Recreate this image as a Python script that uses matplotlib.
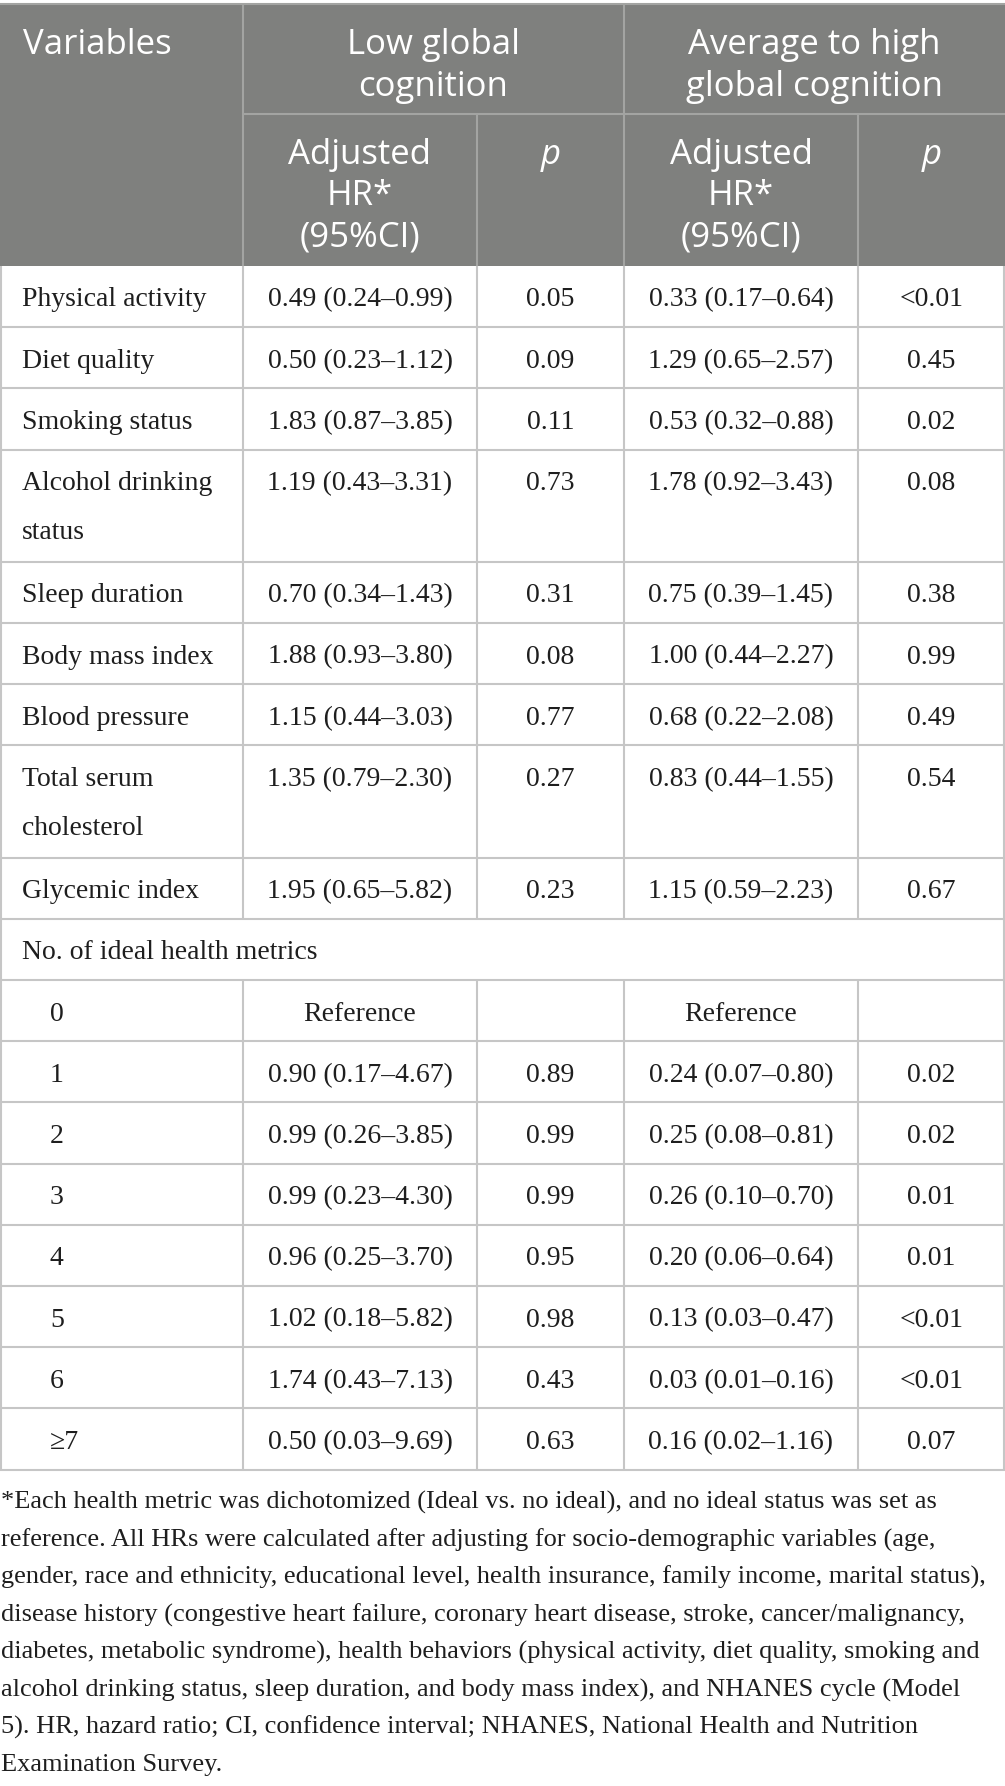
import matplotlib.pyplot as plt

# table data
variables = ["Physical activity", "Diet quality", "Smoking status",
             "Alcohol drinking\nstatus", "Sleep duration", "Body mass index",
             "Blood pressure", "Total serum\ncholesterol", "Glycemic index"]
low_hr = ["0.49 (0.24–0.99)", "0.50 (0.23–1.12)", "1.83 (0.87–3.85)",
          "1.19 (0.43–3.31)", "0.70 (0.34–1.43)", "1.88 (0.93–3.80)",
          "1.15 (0.44–3.03)", "1.35 (0.79–2.30)", "1.95 (0.65–5.82)"]
low_p = ["0.05", "0.09", "0.11", "0.73", "0.31", "0.08", "0.77", "0.27", "0.23"]
high_hr = ["0.33 (0.17–0.64)", "1.29 (0.65–2.57)", "0.53 (0.32–0.88)",
           "1.78 (0.92–3.43)", "0.75 (0.39–1.45)", "1.00 (0.44–2.27)",
           "0.68 (0.22–2.08)", "0.83 (0.44–1.55)", "1.15 (0.59–2.23)"]
high_p = ["<0.01", "0.45", "0.02", "0.08", "0.38", "0.99", "0.49", "0.54", "0.67"]

group_label = "No. of ideal health metrics"
metrics_n = ["0", "1", "2", "3", "4", "5", "6", "≥7"]
metrics_low_hr = ["Reference", "0.90 (0.17–4.67)", "0.99 (0.26–3.85)",
                  "0.99 (0.23–4.30)", "0.96 (0.25–3.70)", "1.02 (0.18–5.82)",
                  "1.74 (0.43–7.13)", "0.50 (0.03–9.69)"]
metrics_low_p = ["", "0.89", "0.99", "0.99", "0.95", "0.98", "0.43", "0.63"]
metrics_high_hr = ["Reference", "0.24 (0.07–0.80)", "0.25 (0.08–0.81)",
                   "0.26 (0.10–0.70)", "0.20 (0.06–0.64)", "0.13 (0.03–0.47)",
                   "0.03 (0.01–0.16)", "0.16 (0.02–1.16)"]
metrics_high_p = ["", "0.02", "0.02", "0.01", "0.01", "<0.01", "<0.01", "0.07"]

header_groups = ["Low global\ncognition", "Average to high\nglobal cognition"]
header_sub = ["Adjusted\nHR*\n(95%CI)", "p"]

footnote = [
    "*Each health metric was dichotomized (Ideal vs. no ideal), and no ideal status was set as",
    "reference. All HRs were calculated after adjusting for socio-demographic variables (age,",
    "gender, race and ethnicity, educational level, health insurance, family income, marital status),",
    "disease history (congestive heart failure, coronary heart disease, stroke, cancer/malignancy,",
    "diabetes, metabolic syndrome), health behaviors (physical activity, diet quality, smoking and",
    "alcohol drinking status, sleep duration, and body mass index), and NHANES cycle (Model",
    "5). HR, hazard ratio; CI, confidence interval; NHANES, National Health and Nutrition",
    "Examination Survey.",
]

# layout (pixels)
W, H = 1005, 1786
col_x = [0, 243, 477, 624, 858, 1005]
head_top, head_mid, head_bot = 4, 114, 266
row_h = 61.2
extra_line = 51
line_gap = 49

header_bg = "#7f807e"
header_line = "#a3a4a2"
body_line = "#c6c6c6"
txt = "#1e1e1e"

serif = "Liberation Serif"
sans = "Open Sans"
body_fs = 20
head_fs = 25
foot_fs = 19

fig = plt.figure(figsize=(W / 100, H / 100), dpi=100)
ax = fig.add_axes([0, 0, 1, 1])
ax.set_xlim(0, W)
ax.set_ylim(H, 0)
ax.axis("off")

# header background
ax.fill_between([0, W], head_top, head_bot, color=header_bg, lw=0)
ax.hlines(head_top, 0, W, color=header_line, lw=1.5)
ax.hlines(head_mid, col_x[1], W, color=header_line, lw=1.5)
ax.vlines([col_x[1], col_x[3]], head_top, head_bot, color=header_line, lw=1.5)
ax.vlines([col_x[2], col_x[4]], head_mid, head_bot, color=header_line, lw=1.5)

ax.text(23, 54, "Variables", color="white", fontsize=head_fs, family=sans,
        va="baseline", ha="left")
for g, label in enumerate(header_groups):
    cx = (col_x[1 + 2 * g] + col_x[3 + 2 * g]) / 2
    for k, line in enumerate(label.split("\n")):
        ax.text(cx, 54 + 42 * k, line, color="white", fontsize=head_fs,
                family=sans, va="baseline", ha="center")
    cx = (col_x[1 + 2 * g] + col_x[2 + 2 * g]) / 2
    for k, line in enumerate(header_sub[0].split("\n")):
        ax.text(cx, 164 + 41 * k, line, color="white", fontsize=head_fs,
                family=sans, va="baseline", ha="center")
    cx = (col_x[2 + 2 * g] + col_x[3 + 2 * g]) / 2
    ax.text(cx, 164, header_sub[1], color="white", fontsize=head_fs,
            family=sans, style="italic", va="baseline", ha="center")

# body rows
rows = []
for i in range(len(variables)):
    rows.append((variables[i], [low_hr[i], low_p[i], high_hr[i], high_p[i]], 22))
rows.append((group_label, None, 22))
for i in range(len(metrics_n)):
    rows.append((metrics_n[i], [metrics_low_hr[i], metrics_low_p[i],
                                metrics_high_hr[i], metrics_high_p[i]], 50))

y = head_bot
for label, cells, indent in rows:
    n_lines = label.count("\n") + 1
    h = row_h + extra_line * (n_lines - 1)
    base = y + 40.5
    for k, line in enumerate(label.split("\n")):
        ax.text(indent, base + line_gap * k, line, color=txt, fontsize=body_fs,
                family=serif, va="baseline", ha="left")
    if cells is not None:
        for c, val in enumerate(cells):
            cx = (col_x[c + 1] + col_x[c + 2]) / 2
            ax.text(cx, base, val, color=txt, fontsize=body_fs, family=serif,
                    va="baseline", ha="center")
        ax.vlines(col_x[1:5], y, y + h, color=body_line, lw=1.5)
    ax.vlines([0.75, W - 0.75], y, y + h, color=body_line, lw=1.5)
    y += h
    ax.hlines(y, 0, W, color=body_line, lw=1.5)

# footnote
for k, line in enumerate(footnote):
    ax.text(1, 1509 + 37.5 * k, line, color=txt, fontsize=foot_fs, family=serif,
            va="baseline", ha="left")

fig.savefig("out.png", dpi=100, facecolor="white")
